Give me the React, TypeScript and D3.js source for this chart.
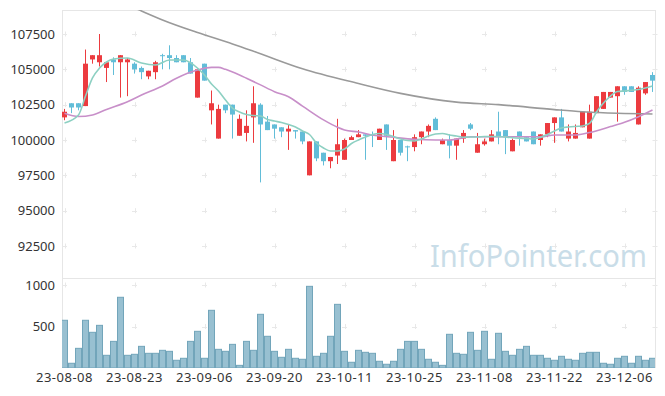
import React from "react";
import * as d3 from "d3";

const dates = [
  "23-08-08","23-08-09","23-08-10","23-08-11","23-08-14","23-08-16","23-08-17","23-08-18","23-08-21","23-08-22",
  "23-08-23","23-08-24","23-08-25","23-08-28","23-08-29","23-08-30","23-08-31","23-09-01","23-09-04","23-09-05",
  "23-09-06","23-09-07","23-09-08","23-09-11","23-09-12","23-09-13","23-09-14","23-09-15","23-09-18","23-09-19",
  "23-09-20","23-09-21","23-09-22","23-09-25","23-09-26","23-09-27","23-10-04","23-10-05","23-10-06","23-10-10",
  "23-10-11","23-10-12","23-10-13","23-10-16","23-10-17","23-10-18","23-10-19","23-10-20","23-10-23","23-10-24",
  "23-10-25","23-10-26","23-10-27","23-10-30","23-10-31","23-11-01","23-11-02","23-11-03","23-11-06","23-11-07",
  "23-11-08","23-11-09","23-11-10","23-11-13","23-11-14","23-11-15","23-11-16","23-11-17","23-11-20","23-11-21",
  "23-11-22","23-11-23","23-11-24","23-11-27","23-11-28","23-11-29","23-11-30","23-12-01","23-12-04","23-12-05",
  "23-12-06","23-12-07","23-12-08","23-12-11","23-12-12",
];

const opens = [
  101600,102600,102600,102400,105700,105500,105100,105700,105500,105500,
  105400,105100,104500,104800,106000,106000,105800,106000,105500,103000,
  105400,102100,100100,102500,102500,100300,100500,101600,102500,101300,
  101100,100900,100600,100700,100600,97500,99900,99100,98500,98900,
  98600,100000,100200,100400,100400,100000,101100,98500,100000,99550,
  99500,100200,100600,101500,99700,100000,99600,100100,101100,99100,
  99700,99900,100600,100700,99200,100600,100200,100600,100000,100400,
  101200,101600,100100,100100,100900,100100,101900,102200,103000,103100,
  103800,103800,101100,103300,104600,
];
const highs = [
  102200,102600,102600,106400,106000,107500,105500,105850,106000,105800,
  105500,105200,104900,105600,106100,106700,106000,106000,105800,105000,
  105400,103500,102500,102500,102500,101800,102100,103800,102600,101700,
  101100,100900,101100,100700,100600,99900,99900,99100,98800,101500,
  100100,100300,100700,100400,100600,100800,101100,100700,100000,99600,
  100400,100600,101100,101600,100100,100400,100100,100700,101200,100500,
  100100,100700,102000,100700,100100,100600,100200,100600,100400,101200,
  101600,102200,101100,101100,102000,102500,103100,103400,103400,103800,
  103800,103800,103800,104100,104800,
];
const lows = [
  101400,101900,102100,102400,105400,105200,104100,104600,103000,103100,
  104700,104300,104300,104300,105000,105000,105500,105500,104700,103000,
  104200,101100,100100,101900,100100,100300,99900,99800,97000,100700,
  100100,100200,99300,100100,99700,97500,98500,98200,98000,98300,
  98600,100000,100200,98600,99500,100000,99300,98500,98900,98500,
  99200,99700,100200,100700,99700,98700,98600,99800,100700,99100,
  99600,99900,99700,99000,99200,99600,99900,99700,99600,100200,
  99800,100600,99900,100100,100900,100100,101900,102200,103000,101300,
  103200,103400,101100,103200,103400,
];
const closes = [
  102000,102300,102300,105400,106000,106000,105500,105500,106000,105700,
  105000,104800,104900,105500,105950,105800,105500,105500,104700,105000,
  104200,102600,102200,102100,101800,101500,101000,102600,101100,100700,
  100800,100600,100800,100600,99900,99900,98700,98500,98800,99700,
  100000,100200,100400,100300,100300,100800,100300,100000,99100,99500,
  100200,100600,101000,100700,100000,99600,100100,100500,100800,99700,
  99900,100400,100200,100200,100000,100200,99900,99700,100400,101200,
  101600,100600,100600,100500,102000,102000,103100,103400,103400,103800,
  103400,103400,103700,104100,104200,
];
const volumes = [
  575,57,237,575,430,514,153,321,852,153,
  165,261,177,177,213,201,93,117,321,442,
  117,695,225,201,285,32,321,213,647,382,
  201,129,225,117,105,984,141,177,382,767,
  201,69,213,189,177,81,45,81,225,321,
  321,225,105,69,32,406,177,165,430,213,
  442,105,418,201,153,225,261,153,153,117,
  93,141,105,93,177,189,189,57,45,117,
  141,57,141,93,117,
];

// moving averages: [candle index, price]
const ma5: [number, number][] = [
  [0,101200],[2,101770],[3,103110],[4,104390],[5,105090],[6,105520],[7,105730],[9,105800],[11,105450],[13,105310],
  [15,105660],[17,105660],[19,105090],[20,104600],[21,103960],[22,103470],[23,102830],[24,102260],[25,101980],[26,101800],
  [27,101730],[28,101700],[29,101450],[30,101340],[31,101240],[32,101100],[33,100920],[34,100640],[35,100390],[36,99790],
  [37,99430],[38,99220],[39,99220],[40,99360],[41,99750],[42,100000],[43,100210],[44,100390],[45,100460],[46,100390],
  [47,100250],[48,100070],[49,99960],[50,99930],[51,100070],[52,100280],[53,100420],[54,100460],[55,100350],[56,100280],
  [57,100190],[58,100210],[59,100210],[60,100250],[62,100250],[64,100160],[66,100110],[67,100070],[68,100180],[69,100390],
  [70,100640],[71,100850],[72,100920],[73,100960],[74,100990],[75,101170],[76,101980],[77,102620],[78,103110],[79,103430],
  [80,103470],[82,103570],[84,103820],
];
const ma20: [number, number][] = [
  [0,101890],[2,101660],[4,101770],[6,102160],[9,102710],[11,103180],[14,103820],[16,104370],[19,104950],[21,105140],
  [22,105140],[23,105000],[25,104600],[26,104370],[28,103900],[30,103420],[32,103060],[34,102400],[37,101420],[39,100900],
  [40,100710],[42,100560],[44,100350],[47,100190],[50,100050],[53,100000],[55,100000],[58,100230],[63,100230],[68,100230],
  [70,100350],[73,100350],[75,100530],[78,100950],[80,101250],[82,101650],[84,102120],
];
const ma60: [number, number][] = [
  [0,111370],[11,109130],[14,108490],[19,107600],[24,106800],[28,106100],[34,105040],[42,104000],[48,103300],[56,102680],
  [62,102500],[70,102150],[74,102000],[79,101890],[84,101840],
];

const priceTicks = [92500, 95000, 97500, 100000, 102500, 105000, 107500];
const volumeTicks = [500, 1000];
const xTickDates = ["23-08-08","23-08-23","23-09-06","23-09-20","23-10-11","23-10-25","23-11-08","23-11-22","23-12-06"];

const W = 665, H = 396;
const L = 62, R = 655, T = 10, PB = 278, VB = 368;
const FONT = "'Noto Sans', sans-serif";

export default function App() {
  const x = d3.scaleBand<string>().domain(dates).range([61, 656]).padding(0);
  const step = x.step();
  const xc = (i: number) => (x(dates[i]) as number) + step / 2;
  const yP = d3.scaleLinear().domain([92500, 107500]).range([246, 34]);
  const yV = d3.scaleLinear().domain([0, 1000]).range([VB, 285]);

  const line = d3.line<[number, number]>()
    .x((d) => xc(d[0]))
    .y((d) => yP(d[1]))
    .curve(d3.curveMonotoneX);

  const bodyW = 5;
  const up = "#ec3b3f", down = "#62bdd8";
  const gridX = [...xTickDates.map((d) => xc(dates.indexOf(d))), R];
  const gridY = [...priceTicks.map((t) => yP(t)), ...volumeTicks.map((t) => yV(t))];

  return (
    <svg width={W} height={H} style={{ position: "absolute", left: 0, top: 0, background: "#fff" }}>
      <defs>
        <clipPath id="pclip"><rect x={L} y={T} width={R - L} height={PB - T} /></clipPath>
        <clipPath id="vclip"><rect x={L} y={PB} width={R - L} height={VB - PB} /></clipPath>
      </defs>
      <rect x={0} y={0} width={W} height={H} fill="#fff" />
      {/* frame */}
      <line x1={L} x2={R} y1={T + 0.5} y2={T + 0.5} stroke="#e6e6e6" />
      <line x1={L + 0.5} x2={L + 0.5} y1={T} y2={VB} stroke="#e6e6e6" />
      <line x1={R + 0.5} x2={R + 0.5} y1={T} y2={VB} stroke="#e6e6e6" />
      <line x1={L} x2={R} y1={PB + 0.5} y2={PB + 0.5} stroke="#e6e6e6" />
      {/* grid crosses */}
      {gridX.map((gx, i) =>
        gridY.map((gy, j) => (
          <g key={`g${i}-${j}`} stroke="#e8e8e8" strokeWidth={1}>
            <line x1={gx - 2.5} x2={gx + 2.5} y1={Math.round(gy) + 0.5} y2={Math.round(gy) + 0.5} />
            <line x1={Math.round(gx) + 0.5} x2={Math.round(gx) + 0.5} y1={gy - 2.5} y2={gy + 2.5} />
          </g>
        ))
      )}
      {/* watermark */}
      <text x={647} y={267} textAnchor="end" fontFamily={FONT} fontSize={31} fill="#c9dde8"
        textLength={217} lengthAdjust="spacingAndGlyphs">InfoPointer.com</text>
      {/* candles */}
      <g clipPath="url(#pclip)">
        {dates.map((d, i) => {
          const o = opens[i], c = closes[i];
          const col = c >= o ? up : down;
          const cx = Math.round(xc(i) - 0.5) + 0.5;
          const top = yP(Math.max(o, c));
          const h = Math.max(1, yP(Math.min(o, c)) - top);
          return (
            <g key={d}>
              <line x1={cx} x2={cx} y1={yP(highs[i])} y2={yP(lows[i])} stroke={col} strokeWidth={1} />
              <rect x={cx - bodyW / 2} y={top} width={bodyW} height={h} fill={col} />
            </g>
          );
        })}
        <path d={line(ma60) || ""} fill="none" stroke="#9a9a9a" strokeWidth={1.6} />
        <path d={line(ma20) || ""} fill="none" stroke="#c88fc9" strokeWidth={1.6} />
        <path d={line(ma5) || ""} fill="none" stroke="#8dd0c2" strokeWidth={1.6} />
      </g>
      {/* volume */}
      <g clipPath="url(#vclip)">
        {dates.map((d, i) => (
          <rect key={d} x={(x(d) as number) + 0.5} y={yV(volumes[i])} width={step - 1}
            height={VB - yV(volumes[i])} fill="#98c0d1" stroke="#72a5ba" strokeWidth={1} />
        ))}
      </g>
      {/* y labels */}
      {priceTicks.map((t) => (
        <text key={t} x={55} y={yP(t)} dy="0.35em" textAnchor="end" fontFamily={FONT} fontSize={13} fill="#333">{t}</text>
      ))}
      {volumeTicks.map((t) => (
        <text key={t} x={55} y={yV(t)} dy="0.35em" textAnchor="end" fontFamily={FONT} fontSize={13} fill="#333">{t}</text>
      ))}
      {/* x labels */}
      {xTickDates.map((d) => (
        <text key={d} x={xc(dates.indexOf(d))} y={382} textAnchor="middle" fontFamily={FONT} fontSize={13}
          letterSpacing={0.5} fill="#333">{d}</text>
      ))}
    </svg>
  );
}
